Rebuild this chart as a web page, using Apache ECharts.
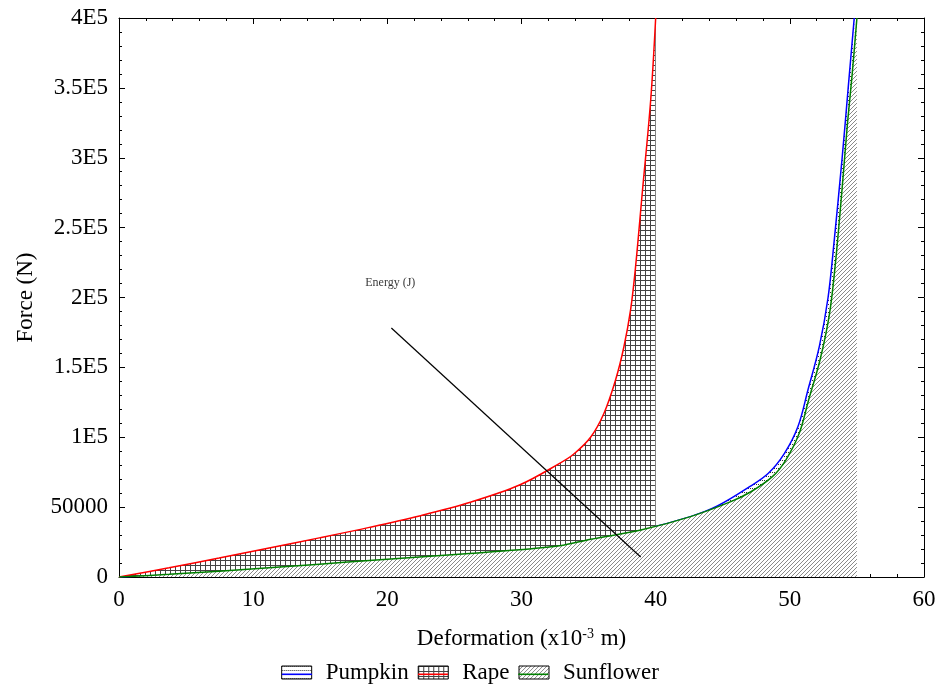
<!DOCTYPE html>
<html>
<head>
<meta charset="utf-8">
<script src="https://cdn.jsdelivr.net/npm/echarts@6/dist/echarts.min.js"></script>
<style>html,body{margin:0;padding:0;background:#fff}#c{width:940px;height:694px}</style>
</head>
<body>
<div id="c"></div>
<script>
// ---------------- data ----------------
const seriesNames = ['Pumpkin', 'Rape', 'Sunflower'];
const lineColors = ['#0000ff', '#ff0000', '#008000'];

const pumpkinX = [0, 3.73, 7.46, 11.19, 14.93, 18.66, 22.39, 26.12, 29.85, 32.84, 35.15, 38.9, 42.6, 44.6, 47.0, 48.4, 49.6, 50.6, 51.35, 52.2, 52.85, 53.3, 53.9, 54.35, 54.8];
const pumpkinY = [0, 1900, 4200, 6600, 9200, 11800, 14300, 16800, 19500, 22300, 27000, 33600, 43200, 50800, 64600, 74200, 88500, 107500, 133800, 165000, 200000, 240000, 300000, 350000, 400000];

const rapeX = [0, 3.73, 7.46, 11.19, 14.93, 18.66, 22.39, 26.12, 29.85, 32.84, 33.9, 35.15, 36.14, 37.01, 37.63, 38.13, 38.5, 39.0, 39.63, 40.0];
const rapeY = [0, 6600, 13600, 20800, 28000, 35500, 43700, 53300, 65800, 81300, 88000, 100000, 117000, 141000, 164600, 191100, 221800, 274800, 341300, 400000];

const sunflowerX = [0, 3.73, 7.46, 11.19, 14.93, 18.66, 22.39, 26.12, 29.85, 32.84, 35.15, 38.9, 42.6, 45.6, 47.1, 48.7, 49.7, 50.7, 51.4, 52.25, 52.95, 53.35, 53.7, 54.0, 54.3, 54.63, 55.0];
const sunflowerY = [0, 1900, 4200, 6600, 9200, 11800, 14300, 16800, 19500, 22300, 27000, 33600, 43200, 53900, 61000, 71800, 83700, 102800, 126700, 155300, 188000, 220000, 256000, 290000, 325000, 358000, 400000];

const annotText = 'Energy (J)';
const annotTextPos = [20.22, 210400];
const annotLineX = [20.3, 38.88];
const annotLineY = [178200, 14300];

const yTickLabels = ['0', '50000', '1E5', '1.5E5', '2E5', '2.5E5', '3E5', '3.5E5', '4E5'];
const xTitle = 'Deformation (x10{sup|-3} m)';
const yTitle = 'Force (N)';

// ---------------- helpers ----------------
const FONT = '"Liberation Serif", "Times New Roman", serif';
function zip(xs, ys) { return xs.map((x, i) => [x, ys[i]]); }

function makePattern(kind) {
  const c = document.createElement('canvas');
  const ctx = c.getContext('2d');
  if (kind === 'grid') {
    c.width = 5; c.height = 5;
    ctx.fillStyle = '#fff'; ctx.fillRect(0, 0, 5, 5);
    ctx.fillStyle = '#444';
    ctx.fillRect(0, 0, 5, 1); ctx.fillRect(0, 0, 1, 5);
  } else if (kind === 'hatch') {
    c.width = 4; c.height = 4;
    ctx.fillStyle = '#fff'; ctx.fillRect(0, 0, 4, 4);
    ctx.fillStyle = '#8a8a8a';
    for (let i = 0; i < 4; i++) ctx.fillRect(i, 3 - i, 1, 1);
  } else {
    c.width = 4; c.height = 4;
    ctx.fillStyle = '#fff'; ctx.fillRect(0, 0, 4, 4);
    ctx.fillStyle = '#333';
    ctx.fillRect(0, 0, 1, 1); ctx.fillRect(2, 0, 1, 1);
  }
  return { image: c, repeat: 'repeat' };
}
const patterns = [makePattern('dots'), makePattern('grid'), makePattern('hatch')];
const seriesData = [zip(pumpkinX, pumpkinY), zip(rapeX, rapeY), zip(sunflowerX, sunflowerY)];

const axisBase = {
  axisLine: { show: true, onZero: false, lineStyle: { color: '#000', width: 1 } },
  axisTick: { show: true, inside: true, length: 6, lineStyle: { color: '#000', width: 1 } },
  minorTick: { show: true, splitNumber: 5, length: 3, lineStyle: { color: '#000', width: 1 } },
  splitLine: { show: false },
  minorSplitLine: { show: false }
};
const labelStyle = { fontFamily: FONT, fontSize: 23, color: '#000' };

const chart = echarts.init(document.getElementById('c'), null, { renderer: 'canvas' });

const mainSeries = seriesNames.map((name, i) => ({
  name: name,
  type: 'line',
  data: seriesData[i],
  xAxisIndex: 0, yAxisIndex: 0,
  showSymbol: false, symbol: 'none',
  smooth: 0.35,
  lineStyle: { color: lineColors[i], width: 1.5 },
  itemStyle: { color: lineColors[i] },
  areaStyle: { color: patterns[i], opacity: 1, origin: 'start' },
  z: 2 + i,
  silent: true
}));

const option = {
  animation: false,
  backgroundColor: '#fff',
  grid: { left: 119, right: 16, top: 18, bottom: 117 },
  xAxis: [
    Object.assign({
      type: 'value', min: 0, max: 60, interval: 10, position: 'bottom',
      axisLabel: Object.assign({ margin: 11 }, labelStyle),
      name: xTitle, nameLocation: 'middle', nameGap: 50,
      nameTextStyle: {
        fontFamily: FONT, fontSize: 23, color: '#000',
        rich: { sup: { fontFamily: FONT, fontSize: 14, color: '#000', verticalAlign: 'top', lineHeight: 14, padding: [0, 1, 8, 0] } }
      }
    }, axisBase),
    Object.assign({
      type: 'value', min: 0, max: 60, interval: 10, position: 'top',
      axisLabel: { show: false }
    }, axisBase)
  ],
  yAxis: [
    Object.assign({
      type: 'value', min: 0, max: 400000, interval: 50000, position: 'left',
      axisLabel: Object.assign({ margin: 11, formatter: v => yTickLabels[Math.round(v / 50000)] }, labelStyle),
      name: yTitle, nameLocation: 'middle', nameGap: 82, nameRotate: 90,
      nameTextStyle: { fontFamily: FONT, fontSize: 23, color: '#000' }
    }, axisBase),
    Object.assign({
      type: 'value', min: 0, max: 400000, interval: 50000, position: 'right',
      axisLabel: { show: false }
    }, axisBase)
  ],
  legend: [
    {
      data: seriesNames.map((n, i) => ({
        name: n, icon: 'rect',
        itemStyle: { color: patterns[i], borderColor: '#000', borderWidth: 1 }
      })),
      left: 'center', top: 656, itemWidth: 30, itemHeight: 13, itemGap: 9,
      selectedMode: false,
      textStyle: { fontFamily: FONT, fontSize: 23, color: '#000', padding: [0, 0, 0, 9] }
    },
    {
      data: seriesNames.map((n, i) => ({
        name: n, icon: 'path://M0,0M30,13M0,7.5h30v1.6h-30z',
        itemStyle: { color: lineColors[i], borderWidth: 0 }
      })),
      left: 'center', top: 656, itemWidth: 30, itemHeight: 13, itemGap: 9,
      selectedMode: false, z: 10,
      textStyle: { fontFamily: FONT, fontSize: 23, color: 'rgba(0,0,0,0)', padding: [0, 0, 0, 9] }
    }
  ],
  series: mainSeries.concat([
    {
      name: 'annotLine', type: 'line',
      data: zip(annotLineX, annotLineY),
      showSymbol: false, symbol: 'none',
      lineStyle: { color: '#000', width: 1.2 },
      z: 10, silent: true
    },
    {
      name: 'annotText', type: 'scatter',
      data: [annotTextPos],
      symbolSize: 1, itemStyle: { color: 'rgba(0,0,0,0)' },
      label: { show: true, position: 'inside', formatter: annotText, fontFamily: FONT, fontSize: 12, color: '#000' },
      z: 10, silent: true
    }
  ])
};
chart.setOption(option);
</script>
</body>
</html>
